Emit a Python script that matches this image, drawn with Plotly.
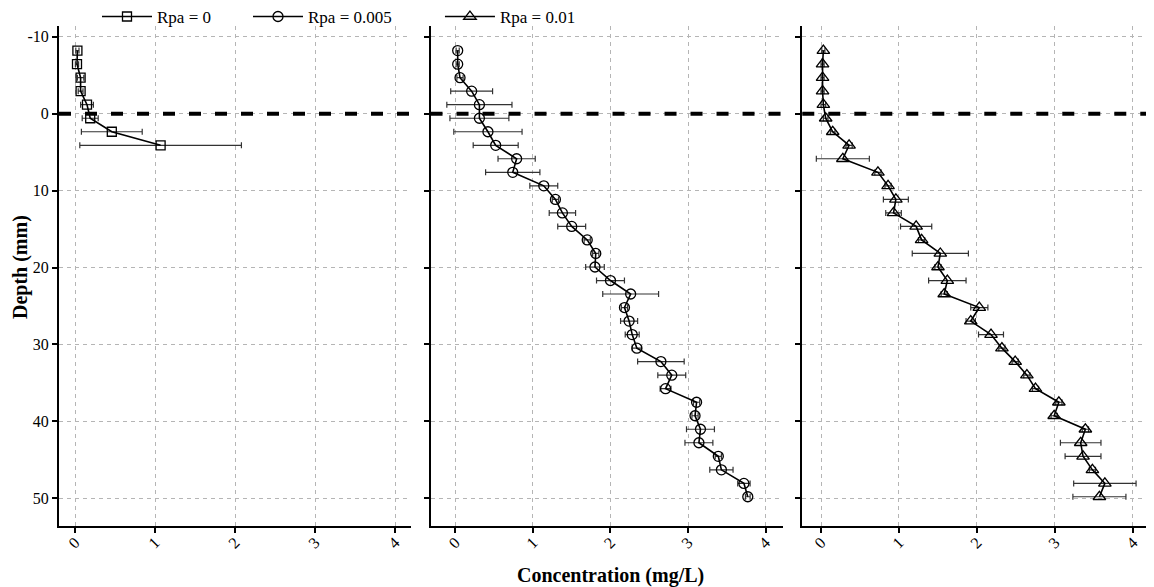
import plotly.graph_objects as go
from plotly.subplots import make_subplots

# depth of each sampling point (mm), shared by the three profiles
depth = [-8.2, -6.44, -4.68, -2.93, -1.17, 0.59, 2.35, 4.11, 5.86, 7.62,
         9.38, 11.14, 12.9, 14.65, 16.41, 18.17, 19.93, 21.69, 23.44, 25.2,
         26.96, 28.72, 30.48, 32.23, 33.99, 35.75, 37.51, 39.27, 41.02, 42.78,
         44.54, 46.3, 48.06, 49.8]

# Rpa = 0 (only the top 8 points)
conc_0 = [0.03, 0.025, 0.07, 0.07, 0.15, 0.19, 0.46, 1.07]
err_0 = [0.02, 0.02, 0.04, 0.03, 0.08, 0.1, 0.38, 1.01]

# Rpa = 0.005
conc_005 = [0.03, 0.03, 0.06, 0.21, 0.31, 0.31, 0.42, 0.52, 0.79, 0.74,
            1.14, 1.29, 1.38, 1.50, 1.70, 1.81, 1.80, 2.00, 2.26, 2.18,
            2.24, 2.28, 2.34, 2.65, 2.79, 2.71, 3.11, 3.09, 3.16, 3.14,
            3.39, 3.43, 3.72, 3.77]
err_005 = [0.02, 0.02, 0.04, 0.27, 0.42, 0.38, 0.44, 0.29, 0.24, 0.35,
           0.18, 0.04, 0.17, 0.18, 0.04, 0.04, 0.12, 0.18, 0.36, 0.04,
           0.11, 0.09, 0.06, 0.3, 0.18, 0.07, 0.04, 0.04, 0.18, 0.18,
           0.04, 0.15, 0.08, 0.03]

# Rpa = 0.01
conc_01 = [0.03, 0.02, 0.02, 0.02, 0.03, 0.06, 0.15, 0.36, 0.28, 0.73,
           0.86, 0.96, 0.93, 1.22, 1.29, 1.53, 1.50, 1.62, 1.58, 2.03,
           1.92, 2.18, 2.32, 2.49, 2.64, 2.75, 3.05, 2.99, 3.39, 3.33,
           3.36, 3.48, 3.64, 3.57]
err_01 = [0.02, 0.02, 0.02, 0.02, 0.03, 0.03, 0.03, 0.04, 0.34, 0.04,
          0.04, 0.16, 0.1, 0.2, 0.04, 0.36, 0.04, 0.24, 0.04, 0.11,
          0.06, 0.16, 0.04, 0.04, 0.04, 0.04, 0.04, 0.04, 0.04, 0.26,
          0.23, 0.04, 0.4, 0.34]

names = ["Rpa = 0", "Rpa = 0.005", "Rpa = 0.01"]
symbols = ["square-open", "circle-open", "triangle-up-open"]
sizes = [9, 10, 11]
x_ticks = [0, 1, 2, 3, 4]
y_ticks = [-10, 0, 10, 20, 30, 40, 50]
y_ticktext = ["-10", "0", "10", "20", "30", "40", "50"]

FONT = "Liberation Serif"

fig = make_subplots(rows=1, cols=3)

series = [(conc_0, err_0, depth[:len(conc_0)]),
          (conc_005, err_005, depth),
          (conc_01, err_01, depth)]
legend_ids = ["legend", "legend2", "legend3"]
legend_x = [0.0347, 0.1726, 0.3479]

for i, (c, e, d) in enumerate(series):
    fig.add_trace(go.Scatter(
        x=c, y=d, name=names[i], legend=legend_ids[i], showlegend=True,
        mode="lines+markers",
        line=dict(color="black", width=1.6),
        marker=dict(symbol=symbols[i], size=sizes[i], color="black",
                    line=dict(color="black", width=1.3)),
        error_x=dict(type="data", array=e, visible=True,
                     color="#333333", thickness=1.2, width=3),
    ), row=1, col=i + 1)
    # dashed sediment-water interface at depth 0
    sfx = str(i + 1) if i else ""
    fig.add_shape(type="line", xref=f"x{sfx} domain", yref=f"y{sfx}",
                  x0=0, x1=1, y0=0, y1=0,
                  line=dict(color="black", width=4, dash="12px,14px"))

domains = [[0, 0.3215], [0.3393, 0.6609], [0.6788, 1.0]]
x_ranges = [[-0.2, 4.2], [-0.32, 4.22], [-0.24, 4.27]]

for i in range(3):
    fig.update_xaxes(
        domain=domains[i], range=x_ranges[i],
        tickvals=x_ticks, tickangle=-45, ticklabelstandoff=-6,
        ticks="outside", ticklen=5, tickwidth=1.5, tickcolor="black",
        showline=True, linecolor="black", linewidth=2,
        showgrid=True, gridcolor="#b5b5b5", gridwidth=1, griddash="4px,4px",
        zeroline=False,
        tickfont=dict(family=FONT, size=16, color="black"),
        row=1, col=i + 1)
    fig.update_yaxes(
        range=[53.6, -11.4], tickvals=y_ticks, ticktext=y_ticktext,
        showticklabels=(i == 0),
        ticks="outside", ticklen=5, tickwidth=1.5, tickcolor="black",
        showline=True, linecolor="black", linewidth=2,
        showgrid=True, gridcolor="#b5b5b5", gridwidth=1, griddash="4px,4px",
        zeroline=False,
        tickfont=dict(family=FONT, size=16, color="black"),
        row=1, col=i + 1)

fig.add_annotation(text="<b>Concentration (mg/L)</b>", xref="paper", yref="paper",
                   x=0.504, y=-0.098, showarrow=False,
                   xanchor="center", yanchor="middle",
                   font=dict(family=FONT, size=20, color="black"))
fig.add_annotation(text="<b>Depth (mm)</b>", xref="paper", yref="paper",
                   x=-0.0356, y=0.518, showarrow=False, textangle=-90,
                   xanchor="center", yanchor="middle",
                   font=dict(family=FONT, size=20, color="black"))

legend_style = dict(orientation="h", xanchor="left",
                    yref="container", y=0.9845, yanchor="middle",
                    font=dict(family=FONT, size=17, color="black"),
                    bgcolor="rgba(0,0,0,0)", itemwidth=50)

# page body has an 8px margin, so the figure is sized to fit inside it
fig.update_layout(
    width=1146, height=579,
    margin=dict(l=51, r=0, t=18, b=61, autoexpand=False),
    showlegend=True,
    plot_bgcolor="white", paper_bgcolor="white",
    font=dict(family=FONT, size=16, color="black"),
    legend=dict(x=legend_x[0], **legend_style),
    legend2=dict(x=legend_x[1], **legend_style),
    legend3=dict(x=legend_x[2], **legend_style),
)

fig.write_html("out.html")
